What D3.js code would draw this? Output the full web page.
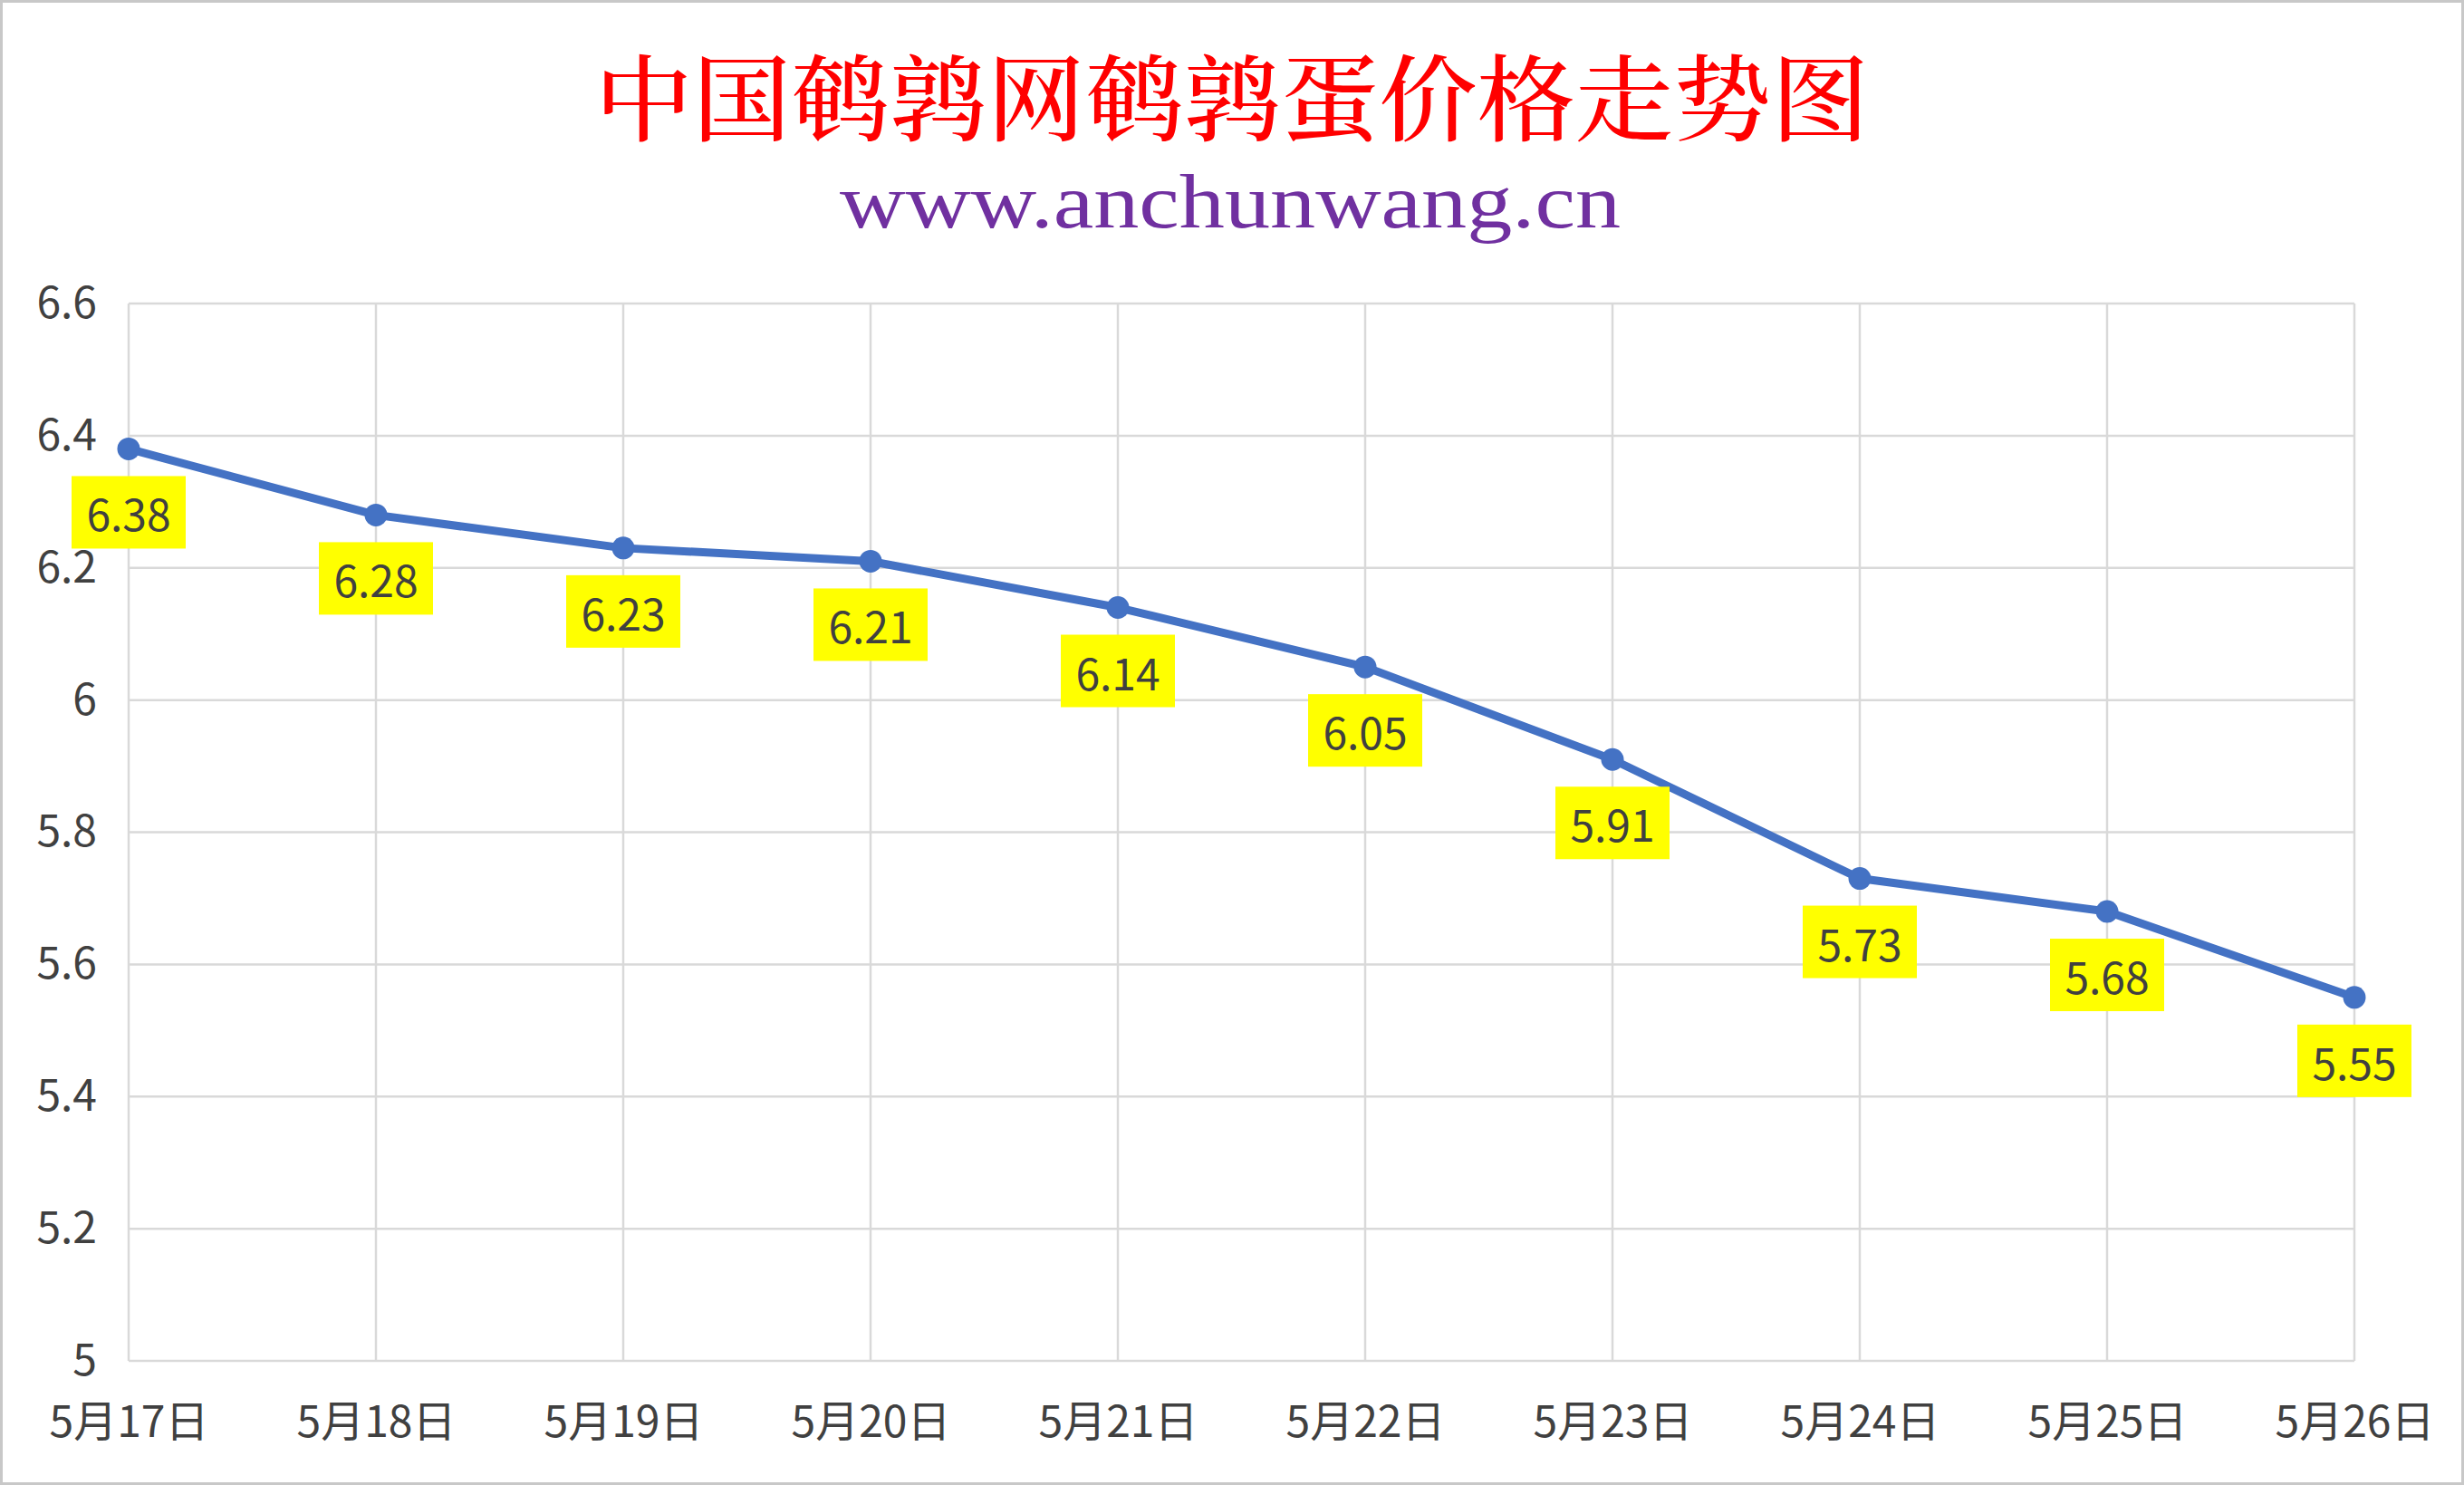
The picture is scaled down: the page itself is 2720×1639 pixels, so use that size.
<!DOCTYPE html>
<html lang="zh">
<head>
  <meta charset="UTF-8">
  <script src="https://d3js.org/d3.v7.min.js"></script>
  <style>
    body { margin: 0; background: white; }
    .tick text { fill: #404040; }
  </style>
</head>
<body>
  <div id="chart"></div>
  <script>
    // data
    const dates = ["5月17日", "5月18日", "5月19日", "5月20日", "5月21日", "5月22日", "5月23日", "5月24日", "5月25日", "5月26日"];
    const prices = [6.38, 6.28, 6.23, 6.21, 6.14, 6.05, 5.91, 5.73, 5.68, 5.55];
    const yTicks = [5, 5.2, 5.4, 5.6, 5.8, 6, 6.2, 6.4, 6.6];

    const W = 2720, H = 1639;
    const margin = { top: 335, right: 121, bottom: 137, left: 142 };
    const width = W - margin.left - margin.right,
          height = H - margin.top - margin.bottom;

    const svg = d3.select("#chart").append("svg")
      .attr("width", W)
      .attr("height", H);

    // outer frame
    svg.append("rect")
      .attr("x", 1.5).attr("y", 1.5)
      .attr("width", W - 3).attr("height", H - 3)
      .attr("fill", "white")
      .attr("stroke", "#C8C8C8")
      .attr("stroke-width", 3);

    // titles
    svg.append("text")
      .attr("x", 1360).attr("y", 103)
      .attr("text-anchor", "middle")
      .attr("dominant-baseline", "central")
      .attr("textLength", 1407)
      .attr("lengthAdjust", "spacingAndGlyphs")
      .style("font-family", "'Noto Serif CJK SC', 'Noto Sans CJK SC', sans-serif")
      .style("font-size", "104px")
      .style("font-weight", "500")
      .style("fill", "#FF0000")
      .text("中国鹌鹑网鹌鹑蛋价格走势图");

    svg.append("text")
      .attr("x", 1358).attr("y", 251)
      .attr("text-anchor", "middle")
      .attr("textLength", 862)
      .attr("lengthAdjust", "spacingAndGlyphs")
      .style("font-family", "'Liberation Serif', 'DejaVu Serif', serif")
      .style("font-size", "84px")
      .style("fill", "#7030A0")
      .text("www.anchunwang.cn");

    const g = svg.append("g")
      .attr("transform", `translate(${margin.left},${margin.top})`);

    const x = d3.scalePoint().domain(dates).range([0, width]);
    const y = d3.scaleLinear().domain([5, 6.6]).range([height, 0]);

    // gridlines
    g.append("g")
      .selectAll("line.h")
      .data(yTicks)
      .join("line")
      .attr("x1", 0).attr("x2", width)
      .attr("y1", d => y(d)).attr("y2", d => y(d))
      .attr("stroke", "#D9D9D9")
      .attr("stroke-width", 2.5);

    g.append("g")
      .selectAll("line.v")
      .data(dates)
      .join("line")
      .attr("x1", d => x(d)).attr("x2", d => x(d))
      .attr("y1", 0).attr("y2", height)
      .attr("stroke", "#D9D9D9")
      .attr("stroke-width", 2.5);

    // axes (labels only)
    const yAxis = d3.axisLeft(y).tickValues(yTicks).tickSize(0).tickPadding(35)
      .tickFormat(d3.format("~g"));
    g.append("g").call(yAxis)
      .call(s => s.select(".domain").remove())
      .selectAll("text")
      .style("font-family", "'Noto Sans CJK SC', sans-serif")
      .style("font-size", "48px");

    const xAxis = d3.axisBottom(x).tickSize(0).tickPadding(50);
    g.append("g").attr("transform", `translate(0,${height})`).call(xAxis)
      .call(s => s.select(".domain").remove())
      .selectAll("text")
      .style("font-family", "'Noto Sans CJK SC', sans-serif")
      .style("font-size", "48px");

    // the line
    const line = d3.line()
      .x((d, i) => x(dates[i]))
      .y(d => y(d));

    g.append("path")
      .datum(prices)
      .attr("fill", "none")
      .attr("stroke", "#4472C4")
      .attr("stroke-width", 9)
      .attr("stroke-linejoin", "round")
      .attr("d", line);

    g.selectAll("circle.pt")
      .data(prices)
      .join("circle")
      .attr("cx", (d, i) => x(dates[i]))
      .attr("cy", d => y(d))
      .attr("r", 12.5)
      .attr("fill", "#4472C4");

    // data labels in yellow boxes
    const labels = g.selectAll("g.lbl")
      .data(prices)
      .join("g")
      .attr("transform", (d, i) => `translate(${x(dates[i])},${y(d) + 70})`);

    labels.append("rect")
      .attr("x", -63).attr("y", -40)
      .attr("width", 126).attr("height", 80)
      .attr("fill", "#FFFF00");

    labels.append("text")
      .attr("text-anchor", "middle")
      .attr("dominant-baseline", "central")
      .style("font-family", "'Noto Sans CJK SC', sans-serif")
      .style("font-size", "48px")
      .style("fill", "#404040")
      .text(d => d3.format(".2f")(d));
  </script>
</body>
</html>
